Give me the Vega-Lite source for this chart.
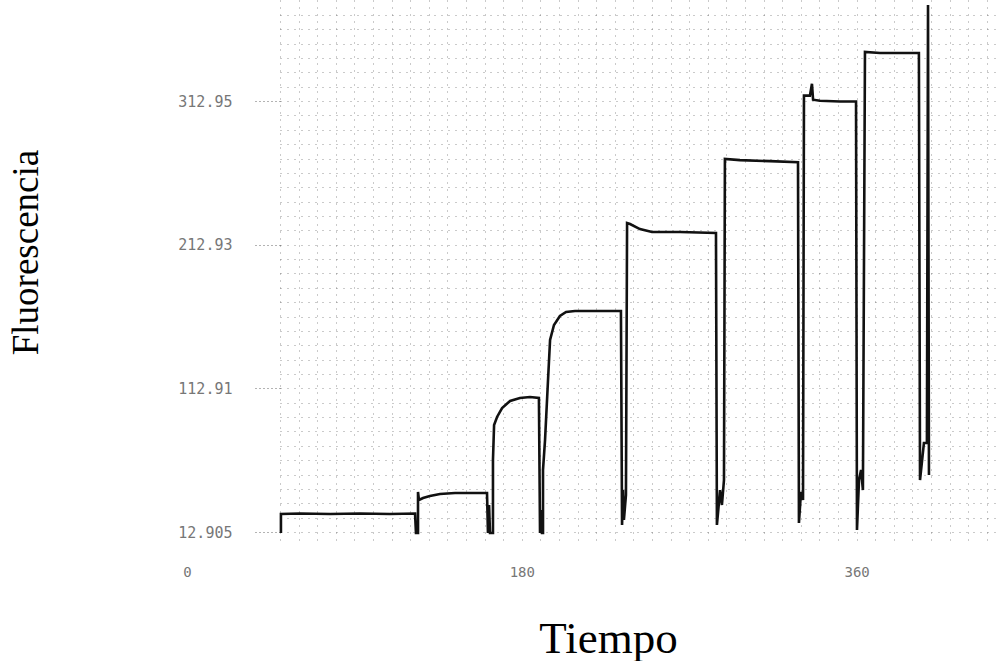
{
  "$schema": "https://vega.github.io/schema/vega-lite/v6.json",
  "width": 720,
  "height": 545,
  "autosize": {"type": "none"},
  "padding": {"left": 280, "top": 0, "right": 0, "bottom": 116},
  "background": "white",
  "config": {"view": {"stroke": null}},
  "data": {
    "values": [
      {"n": 1, "t": 50.5, "f": 12.2},
      {"n": 2, "t": 50.5, "f": 25.4},
      {"n": 3, "t": 60.8, "f": 25.8},
      {"n": 4, "t": 76.9, "f": 25.4},
      {"n": 5, "t": 93.0, "f": 25.8},
      {"n": 6, "t": 109.1, "f": 25.4},
      {"n": 7, "t": 122.6, "f": 25.8},
      {"n": 8, "t": 123.1, "f": 12.2},
      {"n": 9, "t": 124.2, "f": 12.2},
      {"n": 10, "t": 124.2, "f": 40.8},
      {"n": 11, "t": 124.7, "f": 35.2},
      {"n": 12, "t": 126.9, "f": 36.6},
      {"n": 13, "t": 130.6, "f": 38.0},
      {"n": 14, "t": 136.0, "f": 39.4},
      {"n": 15, "t": 144.1, "f": 40.1},
      {"n": 16, "t": 152.2, "f": 40.1},
      {"n": 17, "t": 161.3, "f": 40.1},
      {"n": 18, "t": 161.8, "f": 12.2},
      {"n": 19, "t": 162.4, "f": 31.7},
      {"n": 20, "t": 162.9, "f": 12.2},
      {"n": 21, "t": 164.5, "f": 12.2},
      {"n": 22, "t": 164.5, "f": 63.0},
      {"n": 23, "t": 165.1, "f": 87.4},
      {"n": 24, "t": 166.7, "f": 93.0},
      {"n": 25, "t": 169.4, "f": 99.2},
      {"n": 26, "t": 173.7, "f": 104.1},
      {"n": 27, "t": 179.0, "f": 106.2},
      {"n": 28, "t": 184.4, "f": 106.9},
      {"n": 29, "t": 189.2, "f": 106.2},
      {"n": 30, "t": 189.8, "f": 12.2},
      {"n": 31, "t": 190.3, "f": 28.2},
      {"n": 32, "t": 190.9, "f": 12.2},
      {"n": 33, "t": 191.4, "f": 12.2},
      {"n": 34, "t": 191.4, "f": 56.1},
      {"n": 35, "t": 192.5, "f": 77.0},
      {"n": 36, "t": 194.1, "f": 118.7},
      {"n": 37, "t": 195.2, "f": 146.6},
      {"n": 38, "t": 197.3, "f": 157.0},
      {"n": 39, "t": 200.5, "f": 163.3},
      {"n": 40, "t": 203.8, "f": 166.1},
      {"n": 41, "t": 208.6, "f": 166.8},
      {"n": 42, "t": 222.0, "f": 166.8},
      {"n": 43, "t": 233.3, "f": 166.8},
      {"n": 44, "t": 233.9, "f": 17.8},
      {"n": 45, "t": 234.4, "f": 42.1},
      {"n": 46, "t": 234.9, "f": 21.3},
      {"n": 47, "t": 236.0, "f": 38.7},
      {"n": 48, "t": 236.6, "f": 228.0},
      {"n": 49, "t": 238.2, "f": 227.3},
      {"n": 50, "t": 243.5, "f": 223.8},
      {"n": 51, "t": 250.0, "f": 221.8},
      {"n": 52, "t": 265.1, "f": 221.8},
      {"n": 53, "t": 284.4, "f": 221.1},
      {"n": 54, "t": 284.9, "f": 17.8},
      {"n": 55, "t": 286.6, "f": 42.1},
      {"n": 56, "t": 287.6, "f": 31.7},
      {"n": 57, "t": 288.7, "f": 49.1},
      {"n": 58, "t": 289.2, "f": 272.6},
      {"n": 59, "t": 297.3, "f": 271.8},
      {"n": 60, "t": 313.4, "f": 271.1},
      {"n": 61, "t": 328.5, "f": 270.4},
      {"n": 62, "t": 329.0, "f": 19.2},
      {"n": 63, "t": 330.1, "f": 40.8},
      {"n": 64, "t": 331.2, "f": 35.2},
      {"n": 65, "t": 331.7, "f": 316.7},
      {"n": 66, "t": 334.9, "f": 316.7},
      {"n": 67, "t": 336.0, "f": 325.0},
      {"n": 68, "t": 336.6, "f": 313.9},
      {"n": 69, "t": 340.3, "f": 313.2},
      {"n": 70, "t": 351.1, "f": 312.6},
      {"n": 71, "t": 359.7, "f": 312.6},
      {"n": 72, "t": 360.2, "f": 14.3},
      {"n": 73, "t": 361.3, "f": 49.1},
      {"n": 74, "t": 362.4, "f": 56.1},
      {"n": 75, "t": 363.4, "f": 42.1},
      {"n": 76, "t": 364.5, "f": 347.1},
      {"n": 77, "t": 372.6, "f": 346.4},
      {"n": 78, "t": 383.3, "f": 346.4},
      {"n": 79, "t": 393.5, "f": 346.4},
      {"n": 80, "t": 394.1, "f": 49.1},
      {"n": 81, "t": 396.2, "f": 74.9},
      {"n": 82, "t": 397.8, "f": 74.9},
      {"n": 83, "t": 398.4, "f": 379.8},
      {"n": 84, "t": 398.9, "f": 52.6}
    ]
  },
  "layer": [
    {
      "mark": {"type": "line", "opacity": 0},
      "encoding": {
        "x": {
          "field": "t", "type": "quantitative",
          "scale": {"domain": [0, 437.1], "range": [-93, 720], "nice": false, "zero": false},
          "axis": {
            "orient": "bottom",
            "values": [0, 180, 360],
            "grid": false, "ticks": false, "domain": false,
            "labelFont": "DejaVu Sans Mono", "labelFontSize": 14, "labelColor": "#777777", "labelPadding": 20,
            "labelFlush": false, "labelOverlap": false, "labelBound": false,
            "title": "Tiempo",
            "titleFont": "Liberation Serif", "titleFontSize": 45, "titleFontWeight": "normal", "titleColor": "#000000",
            "titleX": 328, "titleY": 107, "titleBaseline": "alphabetic", "titleAlign": "center", "titleAnchor": null
          }
        },
        "y": {
          "field": "f", "type": "quantitative",
          "scale": {"domain": [3.86, 383.3], "nice": false, "zero": false},
          "axis": null
        },
        "order": {"field": "n", "type": "quantitative"}
      }
    },
    {
      "mark": {"type": "line", "opacity": 0},
      "encoding": {
        "x": {
          "field": "t", "type": "quantitative",
          "scale": {"domain": [50, 437.1], "nice": false, "zero": false},
          "axis": {
            "orient": "bottom",
            "values": [50,60,70,80,90,100,110,120,130,140,150,160,170,180,190,200,210,220,230,240,250,260,270,280,290,300,310,320,330,340,350,360,370,380,390,400,410,420,430],
            "grid": true, "gridColor": "#666", "gridDash": [1, 6], "gridOpacity": 0.7, "gridWidth": 1,
            "labels": false, "ticks": false, "domain": false, "title": null
          }
        },
        "y": {
          "field": "f", "type": "quantitative",
          "scale": {"domain": [3.86, 383.3], "nice": false, "zero": false},
          "axis": {
            "orient": "left",
            "values": [12.905,22.905,32.905,42.905,52.905,62.905,72.905,82.905,92.905,102.905,112.905,122.905,132.905,142.905,152.905,162.905,172.905,182.905,192.905,202.905,212.905,222.905,232.905,242.905,252.905,262.905,272.905,282.905,292.905,302.905,312.905,322.905,332.905,342.905,352.905,362.905,372.905],
            "grid": true, "gridColor": "#666", "gridDash": [1, 6], "gridOpacity": 0.7, "gridWidth": 1,
            "labels": false, "ticks": false, "domain": false, "title": null
          }
        },
        "order": {"field": "n", "type": "quantitative"}
      }
    },
    {
      "mark": {"type": "line", "color": "#111111", "strokeWidth": 2.6},
      "encoding": {
        "x": {
          "field": "t", "type": "quantitative",
          "scale": {"domain": [50, 437.1], "nice": false, "zero": false},
          "axis": null
        },
        "y": {
          "field": "f", "type": "quantitative",
          "scale": {"domain": [3.86, 383.3], "nice": false, "zero": false},
          "axis": {
            "orient": "left",
            "values": [12.905, 112.91, 212.93, 312.95],
            "format": ".5~g",
            "grid": false, "domain": false,
            "ticks": true, "tickSize": 26, "tickDash": [1, 3], "tickColor": "#666666", "tickWidth": 1,
            "labelFont": "DejaVu Sans Mono", "labelFontSize": 15, "labelColor": "#777777", "labelPadding": 22,
            "labelFlush": false, "labelOverlap": false,
            "title": "Fluorescencia",
            "titleFont": "Liberation Serif", "titleFontSize": 37, "titleFontWeight": "normal", "titleColor": "#000000",
            "titleX": -243, "titleY": 252, "titleAngle": -90, "titleBaseline": "alphabetic", "titleAlign": "center", "titleAnchor": null
          }
        },
        "order": {"field": "n", "type": "quantitative"}
      }
    }
  ],
  "resolve": {"scale": {"x": "independent"}, "axis": {"x": "independent", "y": "independent"}}
}
